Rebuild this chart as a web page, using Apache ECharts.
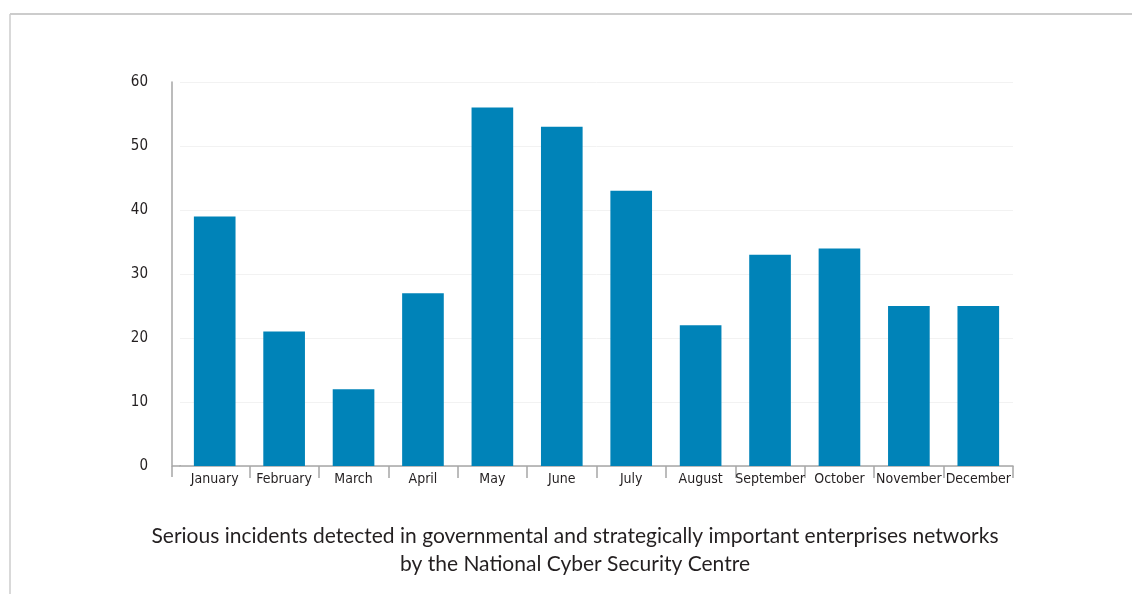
<!DOCTYPE html>
<html>
<head>
<meta charset="utf-8">
<script src="https://cdn.jsdelivr.net/npm/echarts@6/dist/echarts.min.js"></script>
<style>
html,body{margin:0;padding:0;background:#fff;}
#c{width:1132px;height:594px;}
</style>
</head>
<body>
<div id="c"></div>
<script>
const categories = ['January','February','March','April','May','June','July','August','September','October','November','December'];
const incidents = [39, 21, 12, 27, 56, 53, 43, 22, 33, 34, 25, 25];
const yTicks = [0, 10, 20, 30, 40, 50, 60];
const titleLines = ['Serious incidents detected in governmental and strategically important enterprises networks', 'by the National Cyber Security Centre'];

const narrow = "'Liberation Sans Narrow','DejaVu Sans Condensed','Roboto Condensed',sans-serif";
const axisGray = '#a6a6a6';
const chart = echarts.init(document.getElementById('c'), null, {renderer: 'canvas'});
chart.setOption({
  animation: false,
  backgroundColor: '#fff',
  title: {
    text: titleLines.join('\n'),
    left: 570,
    top: 517,
    textAlign: 'center',
    textStyle: {fontFamily: 'Lato, sans-serif', fontSize: 21, fontWeight: 'normal', color: '#231f20', lineHeight: 28}
  },
  graphic: [
    {type: 'line', shape: {x1: 10, y1: 14, x2: 1132, y2: 14}, style: {stroke: '#cccccc', lineWidth: 2}},
    {type: 'line', shape: {x1: 10, y1: 14, x2: 10, y2: 594}, style: {stroke: '#cccccc', lineWidth: 1.5}},
    {type: 'line', shape: {x1: 172, y1: 466, x2: 181, y2: 466}, style: {stroke: axisGray, lineWidth: 1.5}},
    {type: 'line', shape: {x1: 172, y1: 466, x2: 172, y2: 477}, style: {stroke: axisGray, lineWidth: 1.5}}
  ],
  grid: {left: 180, right: 119, top: 82, bottom: 128},
  xAxis: {
    type: 'category',
    data: categories,
    axisLine: {lineStyle: {color: axisGray, width: 1.5}},
    axisTick: {show: true, length: 12, interval: (i) => i !== 0, lineStyle: {color: axisGray, width: 1.5}},
    axisLabel: {margin: 6, fontFamily: narrow, fontSize: 14, color: '#231f20', interval: 0}
  },
  yAxis: {
    type: 'value',
    min: 0, max: 60, interval: 10,
    offset: 8,
    axisLine: {show: true, lineStyle: {color: axisGray, width: 1.5}},
    axisTick: {show: false},
    splitLine: {lineStyle: {color: '#f2f2f2', width: 1}},
    axisLabel: {margin: 24, fontFamily: narrow, fontSize: 15, color: '#231f20',
      formatter: v => yTicks.includes(v) ? String(v) : ''}
  },
  series: [{
    type: 'bar',
    data: incidents,
    barWidth: '60%',
    itemStyle: {color: '#0083b8'}
  }]
});
</script>
</body>
</html>
